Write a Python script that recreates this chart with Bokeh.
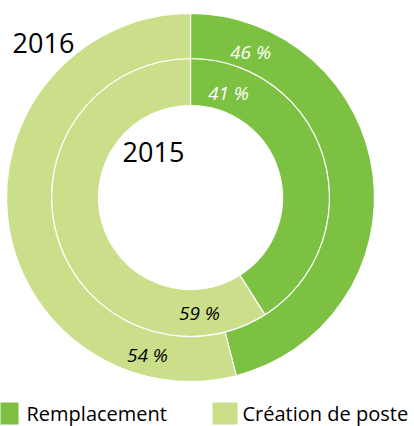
import math
from bokeh.plotting import figure
from bokeh.models import Range1d
from bokeh.embed import file_html
from bokeh.resources import INLINE
from bokeh.core.properties import value

# ---- data ----
years = ["2015", "2016"]
categories = ["Remplacement", "Création de poste"]
remplacement = [41, 46]
creation = [59, 54]
colors = ["#7cc142", "#cbdf8a"]

W, H = 414, 426
p = figure(width=W, height=H, output_backend="svg", toolbar_location=None,
           x_range=Range1d(0, W), y_range=Range1d(0, H), min_border=0)
p.axis.visible = False
p.grid.visible = False
p.outline_line_color = None
p.background_fill_color = "white"

cx, cy = 190, H - 197
rings = {"2015": (92, 139), "2016": (139, 184)}
font = value("Open Sans")

for yi, yr in enumerate(years):
    r_in, r_out = rings[yr]
    vals = [remplacement[yi], creation[yi]]
    total = sum(vals)
    start = math.pi / 2
    for ci, v in enumerate(vals):
        sweep = 2 * math.pi * v / total
        end = start
        st = start - sweep
        p.annular_wedge(x=[cx], y=[cy], inner_radius=r_in, outer_radius=r_out,
                        start_angle=[st], end_angle=[end], direction="anticlock",
                        fill_color=colors[ci], line_color="white", line_width=1.2)
        start = st

# percentage labels (angle from top, clockwise, in degrees)
label_pos = {("2016", 0): (22.5, 157), ("2015", 0): (20, 111),
             ("2015", 1): (175.6, 116), ("2016", 1): (195.3, 163)}
for yi, yr in enumerate(years):
    vals = [remplacement[yi], creation[yi]]
    for ci, v in enumerate(vals):
        a, r = label_pos[(yr, ci)]
        x = cx + r * math.sin(math.radians(a))
        y = cy + r * math.cos(math.radians(a))
        p.text(x=[x], y=[y], text=[f"{v} %"], text_font=font, text_font_size="19px",
               text_font_style="italic", text_align="center", text_baseline="middle",
               text_color="white" if ci == 0 else "black")

# year labels
p.text(x=[43], y=[H - 42], text=[years[1]], text_font=font, text_font_size="27px",
       text_align="center", text_baseline="middle", text_color="black")
p.text(x=[153], y=[H - 151], text=[years[0]], text_font=font, text_font_size="27px",
       text_align="center", text_baseline="middle", text_color="black")

# legend
leg = [(-6, 18, 26), (212, 237, 242)]
for ci, cat in enumerate(categories):
    l, r, tx = leg[ci]
    p.quad(left=[l], right=[r], top=[H - 402], bottom=[H - 424],
           fill_color=colors[ci], line_color=None)
    p.text(x=[tx], y=[H - 413], text=[cat], text_font=font, text_font_size="20px",
           text_align="left", text_baseline="middle", text_color="black")

open("out.html", "w").write(file_html(p, INLINE))
